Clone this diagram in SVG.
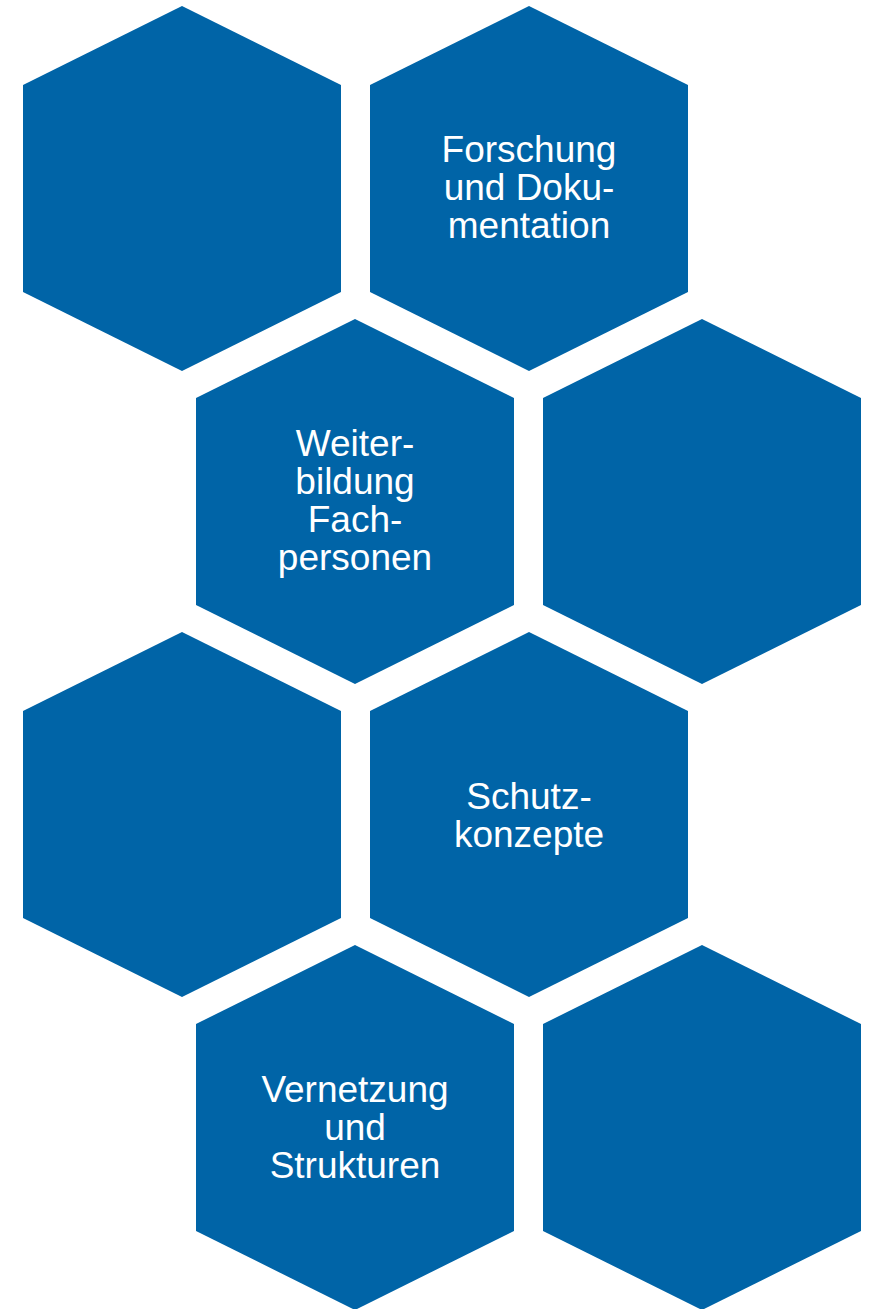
<svg xmlns="http://www.w3.org/2000/svg" width="871" height="1309" viewBox="0 0 871 1309">
<defs>
<style>
.hex{fill:#0064A7;}
.t{fill:#ffffff;font-family:"Liberation Sans",Arial,sans-serif;font-size:37px;text-anchor:middle;}
</style>
<polygon id="hexshape" points="0,0 159,79 159,286 0,365 -159,286 -159,79"/>
</defs>
<rect width="871" height="1309" fill="#ffffff"/>
<g id="hex1"><use href="#hexshape" class="hex" x="182" y="6"/></g>
<g id="hex2"><use href="#hexshape" class="hex" x="529" y="6"/>
<text class="t" x="529" y="162">Forschung</text>
<text class="t" x="529" y="200">und Doku-</text>
<text class="t" x="529" y="238">mentation</text></g>
<g id="hex3"><use href="#hexshape" class="hex" x="355" y="319"/>
<text class="t" x="355" y="456">Weiter-</text>
<text class="t" x="355" y="494">bildung</text>
<text class="t" x="355" y="532">Fach-</text>
<text class="t" x="355" y="570">personen</text></g>
<g id="hex4"><use href="#hexshape" class="hex" x="702" y="319"/></g>
<g id="hex5"><use href="#hexshape" class="hex" x="182" y="632"/></g>
<g id="hex6"><use href="#hexshape" class="hex" x="529" y="632"/>
<text class="t" x="529" y="809">Schutz-</text>
<text class="t" x="529" y="847">konzepte</text></g>
<g id="hex7"><use href="#hexshape" class="hex" x="355" y="945"/>
<text class="t" x="355" y="1102">Vernetzung</text>
<text class="t" x="355" y="1140">und</text>
<text class="t" x="355" y="1178">Strukturen</text></g>
<g id="hex8"><use href="#hexshape" class="hex" x="702" y="945"/></g>
<g id="connectors"></g>
</svg>
